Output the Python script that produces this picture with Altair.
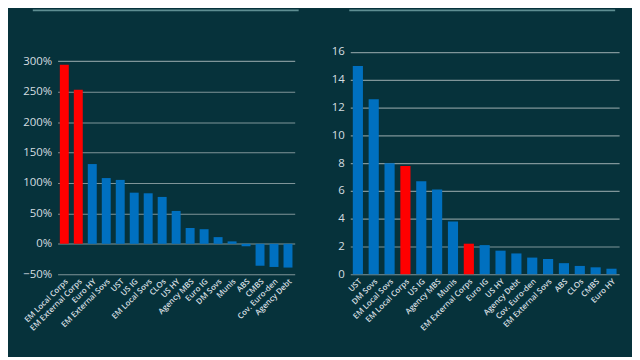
import altair as alt
import pandas as pd

left_cats = ["EM Local Corps", "EM External Corps", "Euro HY", "EM External Sovs", "UST", "US IG",
             "EM Local Sovs", "CLOs", "US HY", "Agency MBS", "Euro IG", "DM Sovs", "Munis", "ABS",
             "CMBS", "Cov. Euro-den", "Agency Debt"]
left_vals = [2.94, 2.53, 1.31, 1.08, 1.05, 0.84, 0.83, 0.77, 0.54, 0.26, 0.24, 0.11, 0.04, -0.04,
             -0.36, -0.38, -0.39]
left_ticks = [-0.5, 0.0, 0.5, 1.0, 1.5, 2.0, 2.5, 3.0]

right_cats = ["UST", "DM Sovs", "EM Local Sovs", "EM Local Corps", "US IG", "Agency MBS", "Munis",
              "EM External Corps", "Euro IG", "US HY", "Agency Debt", "Cov. Euro-den",
              "EM External Sovs", "ABS", "CLOs", "CMBS", "Euro HY"]
right_vals = [15.0, 12.6, 8.0, 7.8, 6.7, 6.1, 3.8, 2.2, 2.1, 1.7, 1.5, 1.2, 1.1, 0.8, 0.6, 0.5, 0.4]
right_ticks = [0, 2, 4, 6, 8, 10, 12, 14, 16]

highlight = ["EM Local Corps", "EM External Corps"]

BG = "#06323b"
BLUE = "#0070c0"
RED = "#ff0000"
GRID = "#7f9599"
TXT = "#d5dee0"
TOPLINE = "#5e8e92"


def make_df(cats, vals):
    return pd.DataFrame({
        "cat": cats,
        "val": vals,
        "hl": ["red" if c in highlight else "blue" for c in cats],
    })


color_scale = alt.Scale(domain=["red", "blue"], range=[RED, BLUE])
line_df = pd.DataFrame({"a": [0]})


def panel(df, cats, ticks, domain, fmt, width, extent, rule_x, rule_x2):
    bars = alt.Chart(df).mark_bar().encode(
        x=alt.X("cat:N", sort=cats, title=None,
                scale=alt.Scale(paddingInner=0.36, paddingOuter=0.16),
                axis=alt.Axis(labelAngle=-45, labelFontSize=8, labelColor=TXT, ticks=False,
                              domain=False, labelPadding=3, labelFont="Open Sans",
                              labelFontWeight=600, labelLimit=200)),
        y=alt.Y("val:Q", title=None,
                scale=alt.Scale(domain=domain, nice=False, zero=False),
                axis=alt.Axis(values=ticks, format=fmt, grid=True, gridColor=GRID,
                              gridWidth=1.2, domain=False, ticks=False, labelFontSize=11.5,
                              labelColor=TXT, labelFont="Open Sans", labelPadding=6,
                              minExtent=extent, maxExtent=extent)),
        color=alt.Color("hl:N", scale=color_scale, legend=None),
    )
    top = alt.Chart(line_df).mark_rule(color=TOPLINE, strokeWidth=2).encode(
        x=alt.value(rule_x), x2=alt.value(rule_x2), y=alt.value(-41)
    )
    return alt.layer(bars, top).properties(width=width, height=225)


left = panel(make_df(left_cats, left_vals), left_cats, left_ticks, [-0.5, 3.166], ".0%",
             239, 50, -25, 243)
right = panel(make_df(right_cats, right_vals), right_cats, right_ticks, [0, 16.07], "d",
              271, 30, -1, 267)

chart = alt.hconcat(left, right, spacing=21).properties(
    background=BG,
    padding={"left": 0, "top": 0, "right": 13, "bottom": 23},
).configure_view(stroke=None)

chart.save("out.html", embed_options={"renderer": "svg", "actions": False})
